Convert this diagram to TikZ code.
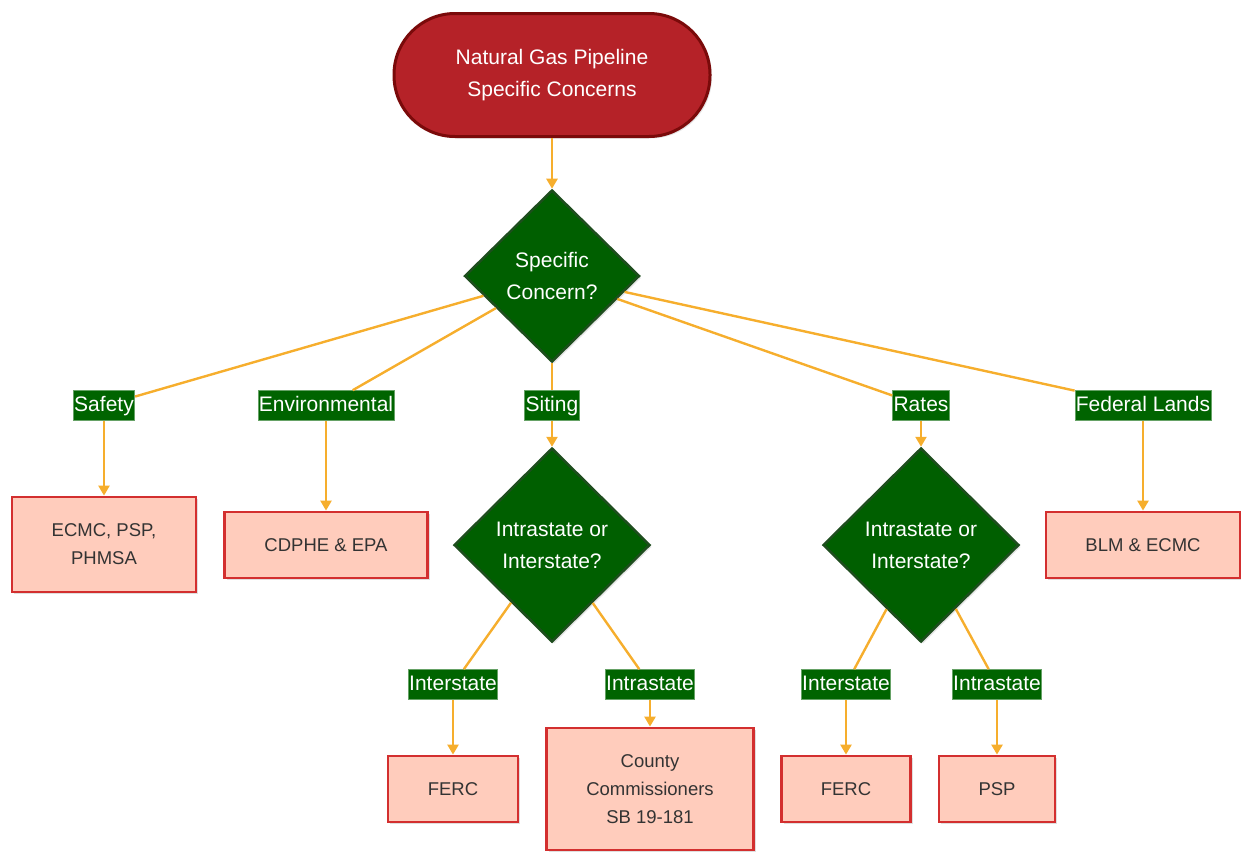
\documentclass[tikz,border=0pt]{standalone}
\usepackage{fontspec}
\setmainfont{Liberation Sans}
\usetikzlibrary{shapes.geometric,arrows.meta,shadows}
\definecolor{termfill}{HTML}{B52228}
\definecolor{termdraw}{HTML}{7A0A0A}
\definecolor{decfill}{HTML}{005F00}
\definecolor{decdraw}{HTML}{1E4D1E}
\definecolor{labfill}{HTML}{006400}
\definecolor{boxfill}{HTML}{FFCCBC}
\definecolor{boxdraw}{HTML}{D32F2F}
\definecolor{conn}{HTML}{F6AE2D}
\definecolor{txt}{HTML}{333333}
\begin{document}
\begin{tikzpicture}[x=1pt,y=-1pt,
 term/.style={rectangle, rounded corners=61pt, minimum width=316pt, minimum height=123pt, fill=termfill, draw=termdraw, line width=3pt, text=white, align=center, font=\fontsize{21}{32}\selectfont, drop shadow={opacity=0.2, shadow xshift=2pt, shadow yshift=-2pt}},
 decision/.style={diamond, inner sep=0pt, fill=decfill, draw=decdraw, line width=2.5pt, text=white, align=center, font=\fontsize{21}{32}\selectfont, drop shadow={opacity=0.2, shadow xshift=2pt, shadow yshift=-2pt}},
 lab/.style={rectangle, fill=labfill, draw=labfill!60!white, line width=0.6pt, text=white, inner xsep=1pt, inner ysep=0pt, text height=21pt, text depth=9pt, font=\fontsize{21}{25}\selectfont},
 outbox/.style={rectangle, fill=boxfill, draw=boxdraw, line width=2.8pt, text=txt, align=center, inner sep=0pt, font=\fontsize{18.5}{28}\selectfont, drop shadow={opacity=0.25, shadow xshift=2pt, shadow yshift=-2pt}},
 link/.style={draw=conn, line width=2.4pt},
 arr/.style={link, -{Triangle[length=10pt,width=11pt]}}
]
\useasboundingbox (0,0) rectangle (1241,852);

\node[term] (top) at (552,75) {Natural Gas Pipeline\\Specific Concerns};
\node[decision, minimum width=175pt, minimum height=172pt] (d1) at (552,276) {Specific\\Concern?};

\node[lab] (lsafe) at (104,405.5) {Safety};
\node[lab] (lenv) at (326,405.5) {Environmental};
\node[lab] (lsite) at (552,405.5) {Siting};
\node[lab] (lrate) at (921,405.5) {Rates};
\node[lab] (lfed) at (1143,405.5) {Federal Lands};

\node[outbox, minimum width=184pt, minimum height=95pt] (bsafe) at (104,544.5) {ECMC, PSP,\\PHMSA};
\node[outbox, minimum width=203pt, minimum height=66pt] (benv) at (326,545) {CDPHE \& EPA};
\node[decision, minimum width=196pt, minimum height=194pt] (d2) at (552,545) {Intrastate or\\Interstate?};
\node[decision, minimum width=196pt, minimum height=194pt] (d3) at (921,545) {Intrastate or\\Interstate?};
\node[outbox, minimum width=194pt, minimum height=66pt] (bfed) at (1143,545) {BLM \& ECMC};

\node[lab] (l2a) at (453,684.5) {Interstate};
\node[lab] (l2b) at (650,684.5) {Intrastate};
\node[lab] (l3a) at (846,684.5) {Interstate};
\node[lab] (l3b) at (997,684.5) {Intrastate};

\node[outbox, minimum width=130pt, minimum height=66pt] (ferc1) at (453,789) {FERC};
\node[outbox, minimum width=207pt, minimum height=122pt] (county) at (650,789) {County\\Commissioners\\SB 19-181};
\node[outbox, minimum width=129pt, minimum height=66pt] (ferc2) at (846,789) {FERC};
\node[outbox, minimum width=116pt, minimum height=66pt] (psp) at (997,789) {PSP};

\draw[arr] (top) -- (d1);
\draw[link] (d1) -- (lsafe);
\draw[link] (d1) -- (lenv);
\draw[link] (d1) -- (lsite);
\draw[link] (d1) -- (lrate);
\draw[link] (d1) -- (lfed);
\draw[arr] (lsafe) -- (bsafe);
\draw[arr] (lenv) -- (benv);
\draw[arr] (lsite) -- (d2);
\draw[arr] (lrate) -- (d3);
\draw[arr] (lfed) -- (bfed);
\draw[link] (d2) -- (l2a);
\draw[link] (d2) -- (l2b);
\draw[link] (d3) -- (l3a);
\draw[link] (d3) -- (l3b);
\draw[arr] (l2a) -- (ferc1);
\draw[arr] (l2b) -- (county);
\draw[arr] (l3a) -- (ferc2);
\draw[arr] (l3b) -- (psp);
\end{tikzpicture}
\end{document}
